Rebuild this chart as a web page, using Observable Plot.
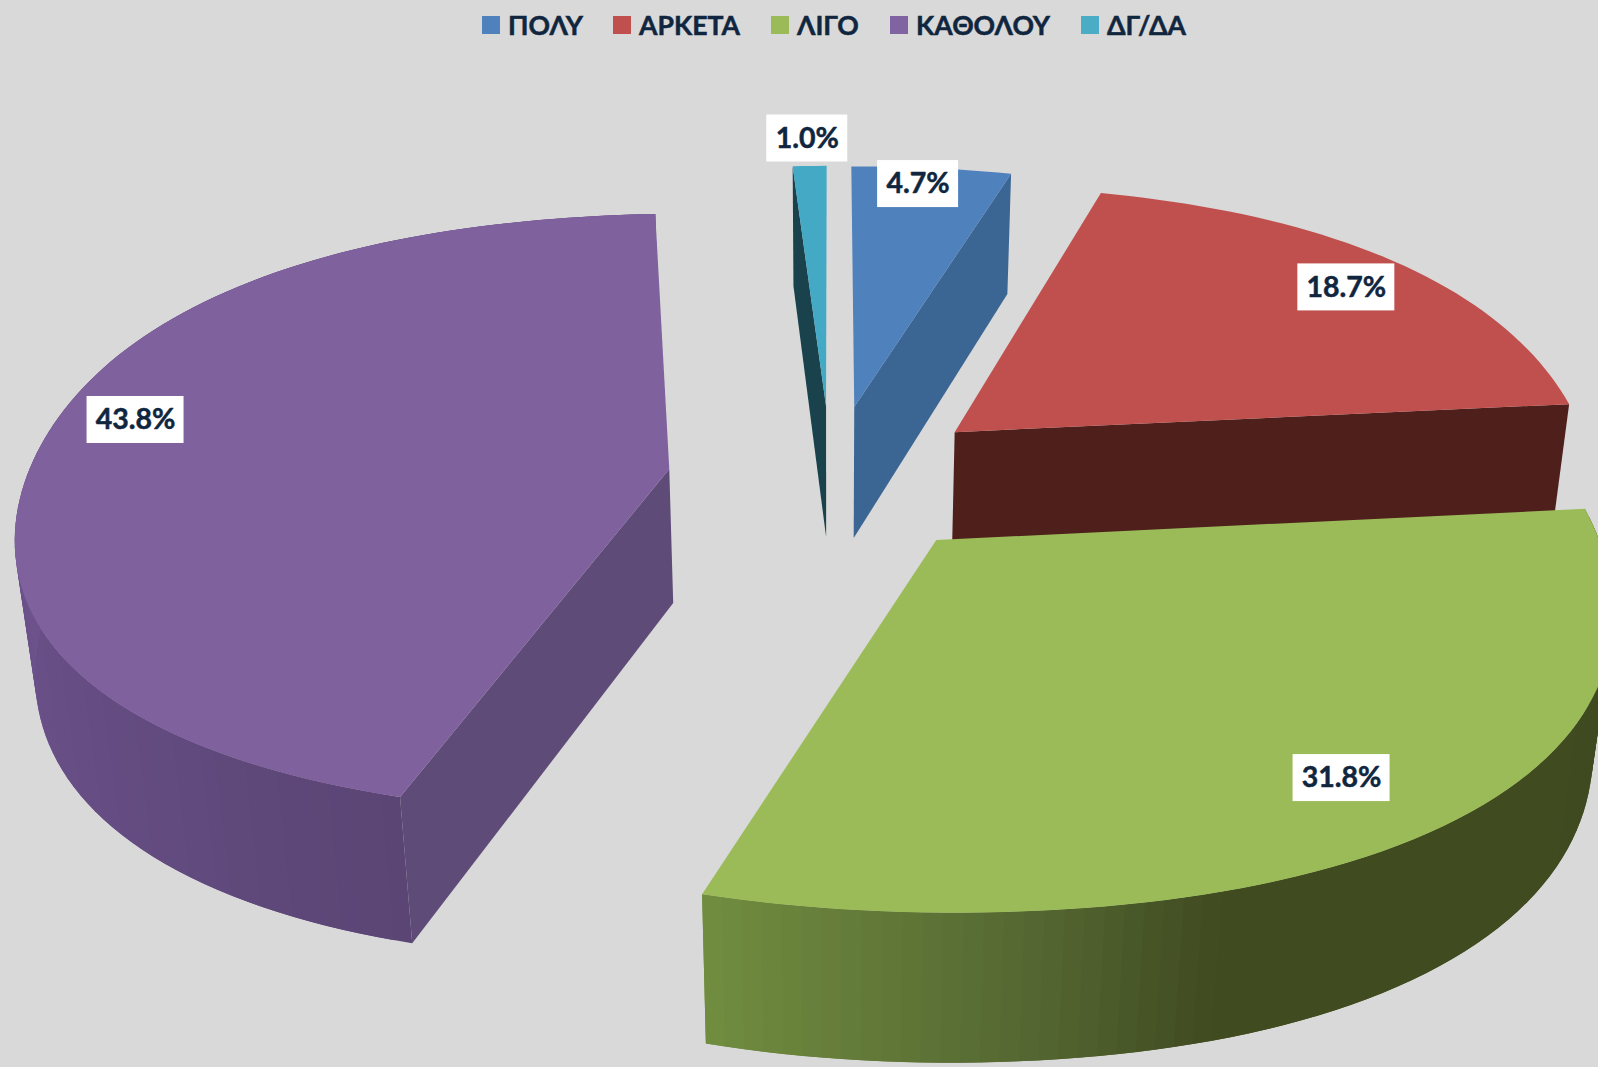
<!DOCTYPE html>
<html lang="el">
<head>
<meta charset="utf-8">
<script src="https://cdn.jsdelivr.net/npm/d3@7"></script>
<script src="https://cdn.jsdelivr.net/npm/@observablehq/plot@0.6"></script>
<style>
html,body{margin:0;padding:0;background:#d9d9d9;overflow:hidden;width:1598px;height:1067px}
#legend{position:relative;height:52px;width:1598px;font:700 26.6px Lato,"Open Sans",sans-serif;color:#10263f;-webkit-text-stroke:0.5px #10263f}
#legend .item{position:absolute;top:0;height:52px;line-height:50px;white-space:nowrap}
#legend .sw{position:absolute;left:0;top:16px;width:18px;height:18px}
#legend .tx{position:absolute;left:26px;top:0}
svg{display:block}
</style>
</head>
<body>
<div id="legend"></div>
<div id="chart"></div>
<script>
// ---- data
const categories = ["ΠΟΛΥ", "ΑΡΚΕΤΑ", "ΛΙΓΟ", "ΚΑΘΟΛΟΥ", "ΔΓ/ΔΑ"];
const shares = [4.7, 18.7, 31.8, 43.8, 1.0];
const topColors = ["#4f81bd", "#c0504d", "#9bbb59", "#7f619d", "#43a9c5"];
const legendColors = ["#4f81bd", "#c0504d", "#9bbb59", "#8064a2", "#4bacc6"];
const legendLefts = [482, 613, 771, 890, 1081];

// ---- styling of the 3D view
const camera = {xp: 830.5, y0: 478.5, B: 643, A: 296.5, b: 0.15, drop: 137.6, recede: 0.025};
const explode = 0.255;
const bulge = 0.03;
const labelRadius = [0.925, 0.885, 0.86, 0.879, 1.133];
const labelTurn = [-0.9, 0.7, 0.4, 3.7, -0.05];
const wallColors = {
  0: {radial: "#3b6694"},
  1: {radial: "#4f1f1c"},
  2: {arc: [[84, "#3f4a20"], [160, "#404b20"], [175, "#556832"], [198.7, "#718d3f"]]},
  3: {radial: "#5f4b78", arc: [[198.7, "#5a4574"], [230, "#654d83"], [262, "#6d528b"], [356, "#6d528b"]]},
  4: {radial: "#1a424d"}
};
const drawOrder = [1, 0, 4, 3, 2];

// ---- geometry derived from the shares
const rad = d => d * Math.PI / 180;
const project = (X, Y, low = false) => {
  const w = 1 - camera.b * Y + (low ? camera.recede : 0);
  return {x: camera.xp + camera.B * X / w, y: camera.y0 + (camera.A * Y + (low ? camera.drop : 0)) / w};
};
let acc = 0;
const total = d3.sum(shares);
const slices = shares.map((v, i) => {
  const a0 = acc / total * 360; acc += v; const a1 = acc / total * 360; const mid = (a0 + a1) / 2;
  return {i, v, a0, a1, mid, cx: explode * Math.sin(rad(mid)), cy: -explode * Math.cos(rad(mid))};
});
const rim = (s, a) => {
  const r = 1 + bulge * Math.sin(rad(2 * a)) ** 2;
  return [s.cx + r * Math.sin(rad(a)), s.cy - r * Math.cos(rad(a))];
};
const faceRows = [];
const addPoly = (rows, id, color, pts) => pts.forEach(p => rows.push({id, color, x: p.x, y: p.y}));
for (const k of drawOrder) {
  const s = slices[k], wc = wallColors[k];
  const tag = `s${k}`;
  if (wc.arc) {
    const col = d3.scaleLinear().domain(wc.arc.map(d => d[0])).range(wc.arc.map(d => d[1])).clamp(true);
    const n = Math.ceil((s.a1 - s.a0) / 1.5), aS = d3.range(n + 1).map(j => s.a0 + (s.a1 - s.a0) * j / n);
    for (let j = 0; j < n; j++) {
      // each strip reaches over the next one, so no seam shows between them
      const p = rim(s, aS[j]), q = rim(s, aS[Math.min(j + 2, n)]);
      addPoly(faceRows, `${tag}-arc-${j}`, d3.color(col((aS[j] + aS[j + 1]) / 2)).formatHex(),
        [project(...p), project(...q), project(...q, true), project(...p, true)]);
    }
  }
  if (wc.radial) {
    const edge = k >= 3 ? s.a0 : s.a1;
    const p = rim(s, edge);
    addPoly(faceRows, `${tag}-rad`, wc.radial, [project(s.cx, s.cy), project(...p), project(...p, true), project(s.cx, s.cy, true)]);
  }
  const n = Math.max(3, Math.ceil((s.a1 - s.a0) / 1.5));
  const top = [project(s.cx, s.cy)];
  for (let j = 0; j <= n; j++) top.push(project(...rim(s, s.a0 + (s.a1 - s.a0) * j / n)));
  addPoly(faceRows, `${tag}-top`, topColors[k], top);
}
const labels = slices.map(s => {
  const a = s.mid + labelTurn[s.i], r = labelRadius[s.i];
  const c = project(s.cx + r * Math.sin(rad(a)), s.cy - r * Math.cos(rad(a)));
  const text = s.v.toFixed(1) + "%";
  const half = text.length > 4 ? 48.5 : 40.5;
  return {text, x: c.x, y: c.y, x1: c.x - half, x2: c.x + half, y1: c.y - 23.5, y2: c.y + 23.5};
});

// ---- legend
const legend = document.getElementById("legend");
categories.forEach((c, i) => {
  const it = document.createElement("div");
  it.className = "item"; it.style.left = legendLefts[i] + "px";
  it.innerHTML = `<span class="sw" style="background:${legendColors[i]}"></span><span class="tx">${c}</span>`;
  legend.appendChild(it);
});

// ---- chart
const chart = Plot.plot({
  width: 1598, height: 1015,
  margin: 0,
  style: {background: "#d9d9d9", overflow: "hidden"},
  x: {domain: [0, 1598], range: [0, 1598], axis: null},
  y: {domain: [52, 1067], range: [0, 1015], axis: null},
  color: {type: "identity"},
  marks: [
    Plot.line(faceRows, {x: "x", y: "y", z: "id", fill: "color", stroke: null, curve: "linear-closed", clip: "frame"}),
    Plot.rect(labels, {x1: "x1", x2: "x2", y1: "y1", y2: "y2", fill: "white"}),
    Plot.text(labels, {x: "x", y: "y", text: "text", fill: "#10263f", stroke: "#10263f", strokeWidth: 0.5, fontSize: 28.5, fontWeight: 700, fontFamily: 'Lato,"Open Sans",sans-serif'})
  ]
});
document.getElementById("chart").appendChild(chart);
</script>
</body>
</html>
